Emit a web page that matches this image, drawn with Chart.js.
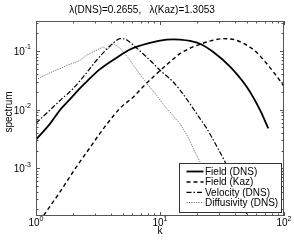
<!DOCTYPE html>
<html><head><meta charset="utf-8">
<script src="https://cdn.jsdelivr.net/npm/chart.js@4"></script>
<style>html,body{margin:0;padding:0;background:#fff;overflow:hidden;}</style>
</head><body>
<canvas id="c" width="294" height="243" style="width:294px;height:243px;display:block"></canvas>
<script>
const titleText = 'λ(DNS)=0.2655,   λ(Kaz)=1.3053';
const xAxisTitle = 'k';
const yAxisTitle = 'spectrum';
const seriesLabels = ['Field (DNS)', 'Field (Kaz)', 'Velocity (DNS)', 'Diffusivity (DNS)'];

const fieldDnsK    = [1, 1.3, 1.6, 1.85, 2.19, 2.6, 3.28, 4.47, 5.73, 8.3, 11.3, 12.8, 14.5, 17.5, 21, 26.9, 36.7, 50, 64, 74.7];
const fieldDnsVals = [0.0031, 0.0058, 0.0105, 0.0145, 0.0216, 0.031, 0.049, 0.077, 0.106, 0.137, 0.156, 0.158, 0.156, 0.148, 0.133, 0.096, 0.054, 0.0245, 0.0099, 0.0048];

const fieldKazK    = [1, 1.146, 1.5, 2.13, 2.7, 3.28, 3.83, 4.76, 6.1, 7.5, 9.4, 11.5, 14.5, 17.5, 21, 26, 32.4, 40, 50, 60, 72.5, 85, 100];
const fieldKazVals = [1.0e-4, 1.55e-4, 3.5e-4, 1.08e-3, 2.2e-3, 3.95e-3, 6.1e-3, 0.0106, 0.0165, 0.026, 0.041, 0.060, 0.090, 0.112, 0.130, 0.150, 0.162, 0.155, 0.126, 0.095, 0.061, 0.040, 0.025];

const velocityK    = [1, 1.3, 1.6, 1.94, 2.5, 3.08, 3.6, 4.2, 4.76, 5.3, 6.0, 7.0, 8.0, 10, 12.5, 14.5, 17.5, 20, 23.8, 28.6, 33.4, 40, 51, 56];
const velocityVals = [0.0059, 0.0099, 0.015, 0.0216, 0.040, 0.0695, 0.10, 0.137, 0.162, 0.157, 0.13, 0.097, 0.075, 0.047, 0.031, 0.0216, 0.0125, 0.0082, 0.0048, 0.0024, 0.0013, 5.3e-4, 1.5e-4, 8e-5];

const diffK    = [1, 1.1, 1.25, 1.45, 1.6, 1.77, 2.0, 2.26, 2.56, 2.9, 3.28, 3.5, 3.71, 3.9, 4.2, 4.5, 4.8, 5.06, 5.6, 6.1, 6.9, 7.55, 8.3, 9.4, 10.3, 11.3, 12.2, 13.2, 14.5, 15.9, 17.2, 18.5, 21, 23, 25, 28, 30.6, 33];
const diffVals = [0.032, 0.036, 0.041, 0.047, 0.051, 0.057, 0.062, 0.069, 0.085, 0.097, 0.110, 0.117, 0.106, 0.112, 0.133, 0.122, 0.110, 0.095, 0.075, 0.057, 0.040, 0.031, 0.024, 0.0175, 0.0135, 0.0105, 0.0088, 0.0072, 0.0058, 0.0042, 0.0031, 0.0022, 0.0013, 8.5e-4, 5.5e-4, 2.8e-4, 1.5e-4, 1.0e-4];

const xTickValues = [1, 10, 100];
const xTickExps   = ['0', '1', '2'];
const yTickValues = [0.1, 0.01, 0.001];
const yTickExps   = ['-1', '-2', '-3'];

const xMin = 1, xMax = 100, yMin = 1.545e-4, yMax = 0.324;
const FONT = '"Liberation Sans", Arial, Helvetica, sans-serif';

function pts(ks, vs) { return ks.map((k, i) => ({ x: k, y: vs[i] })); }

const styles = [
  { color: '#000', width: 1.8, dash: [] },
  { color: '#000', width: 1.4, dash: [4, 3] },
  { color: '#000', width: 1.2, dash: [5, 2, 1.5, 2] },
  { color: '#6e6e6e', width: 1.0, dash: [1.2, 1.2] }
];
const seriesData = [pts(fieldDnsK, fieldDnsVals), pts(fieldKazK, fieldKazVals), pts(velocityK, velocityVals), pts(diffK, diffVals)];

const framePlugin = {
  id: 'matlabFrame',
  afterDatasetsDraw(chart) {
    const ctx = chart.ctx, ca = chart.chartArea;
    const xs = chart.scales.x, ys = chart.scales.y;
    ctx.save();
    ctx.strokeStyle = '#555';
    ctx.lineWidth = 1;
    ctx.setLineDash([]);
    ctx.strokeRect(ca.left + 0.5, ca.top + 0.5, ca.right - ca.left - 1, ca.bottom - ca.top - 1);
    ctx.beginPath();
    for (let n = 0; n <= 2; n++) {
      for (let m = 1; m <= 9; m++) {
        const v = m * Math.pow(10, n);
        if (v < xMin || v > xMax) continue;
        const px = Math.round(xs.getPixelForValue(v)) + 0.5;
        const len = m === 1 ? 4 : 2.5;
        ctx.moveTo(px, ca.bottom); ctx.lineTo(px, ca.bottom - len);
        ctx.moveTo(px, ca.top); ctx.lineTo(px, ca.top + len);
      }
    }
    for (let n = -4; n <= 0; n++) {
      for (let m = 1; m <= 9; m++) {
        const v = m * Math.pow(10, n);
        if (v < yMin || v > yMax) continue;
        const py = Math.round(ys.getPixelForValue(v)) + 0.5;
        const len = m === 1 ? 4 : 2.5;
        ctx.moveTo(ca.left, py); ctx.lineTo(ca.left + len, py);
        ctx.moveTo(ca.right, py); ctx.lineTo(ca.right - len, py);
      }
    }
    ctx.stroke();

    // tick labels
    ctx.fillStyle = '#000';
    ctx.textBaseline = 'alphabetic';
    const big = '10px ' + FONT, small = '7px ' + FONT;
    xTickValues.forEach((v, i) => {
      const px = xs.getPixelForValue(v);
      ctx.font = big; const w1 = ctx.measureText('10').width;
      ctx.font = small; const w2 = ctx.measureText(xTickExps[i]).width;
      const x0 = px - (w1 + w2) / 2;
      ctx.font = big; ctx.textAlign = 'left'; ctx.fillText('10', x0, 226);
      ctx.font = small; ctx.fillText(xTickExps[i], x0 + w1, 221);
    });
    yTickValues.forEach((v, i) => {
      const py = ys.getPixelForValue(v);
      ctx.font = small; const w2 = ctx.measureText(yTickExps[i]).width;
      ctx.font = big; const w1 = ctx.measureText('10').width;
      const xr = 31;
      ctx.textAlign = 'left';
      ctx.font = big; ctx.fillText('10', xr - w2 - w1, py + 4);
      ctx.font = small; ctx.fillText(yTickExps[i], xr - w2, py - 1.5);
    });

    // axis titles
    ctx.font = big;
    ctx.textAlign = 'center';
    ctx.textBaseline = 'middle';
    ctx.fillText(xAxisTitle, (ca.left + ca.right) / 2, 231);
    ctx.save();
    ctx.translate(9, 112);
    ctx.rotate(-Math.PI / 2);
    ctx.fillText(yAxisTitle, 0, 0);
    ctx.restore();

    // legend
    const L = 179.5, T = 163.5, R = 281.5, B = 212.5;
    ctx.fillStyle = '#fff';
    ctx.fillRect(L, T, R - L, B - T);
    ctx.strokeStyle = '#333';
    ctx.lineWidth = 1;
    ctx.strokeRect(L, T, R - L, B - T);
    const rows = [171.5, 182, 192.3, 202.5];
    chart.data.datasets.forEach((ds, i) => {
      const y = rows[i];
      ctx.beginPath();
      ctx.strokeStyle = ds.borderColor;
      ctx.lineWidth = ds.borderWidth;
      ctx.setLineDash(ds.borderDash || []);
      ctx.moveTo(186.5, y); ctx.lineTo(203.5, y);
      ctx.stroke();
      ctx.setLineDash([]);
      ctx.fillStyle = '#000';
      ctx.font = big;
      ctx.textAlign = 'left';
      ctx.textBaseline = 'middle';
      ctx.fillText(ds.label, 205, y + 0.5);
    });
    ctx.restore();
  }
};

new Chart(document.getElementById('c'), {
  type: 'line',
  data: {
    datasets: seriesData.map((d, i) => ({
      label: seriesLabels[i],
      data: d,
      borderColor: styles[i].color,
      borderWidth: styles[i].width,
      borderDash: styles[i].dash,
      pointRadius: 0,
      fill: false,
      cubicInterpolationMode: i === 3 ? 'default' : 'monotone',
      tension: i === 3 ? 0 : 0.4
    }))
  },
  options: {
    responsive: false,
    devicePixelRatio: 1,
    animation: false,
    layout: { padding: { left: 0, right: 10, top: 0, bottom: 0 } },
    plugins: {
      legend: { display: false },
      tooltip: { enabled: false },
      title: {
        display: true, text: titleText, color: '#000',
        font: { family: FONT, size: 10, weight: 'normal', lineHeight: 1.2 },
        padding: { top: 4, bottom: 5 }
      }
    },
    scales: {
      x: {
        type: 'logarithmic', min: xMin, max: xMax,
        grid: { display: false }, border: { display: false },
        ticks: { display: false },
        afterFit: s => { s.height = 27; }
      },
      y: {
        type: 'logarithmic', min: yMin, max: yMax,
        grid: { display: false }, border: { display: false },
        ticks: { display: false },
        afterFit: s => { s.width = 36; }
      }
    }
  },
  plugins: [framePlugin]
});
</script>
</body></html>
